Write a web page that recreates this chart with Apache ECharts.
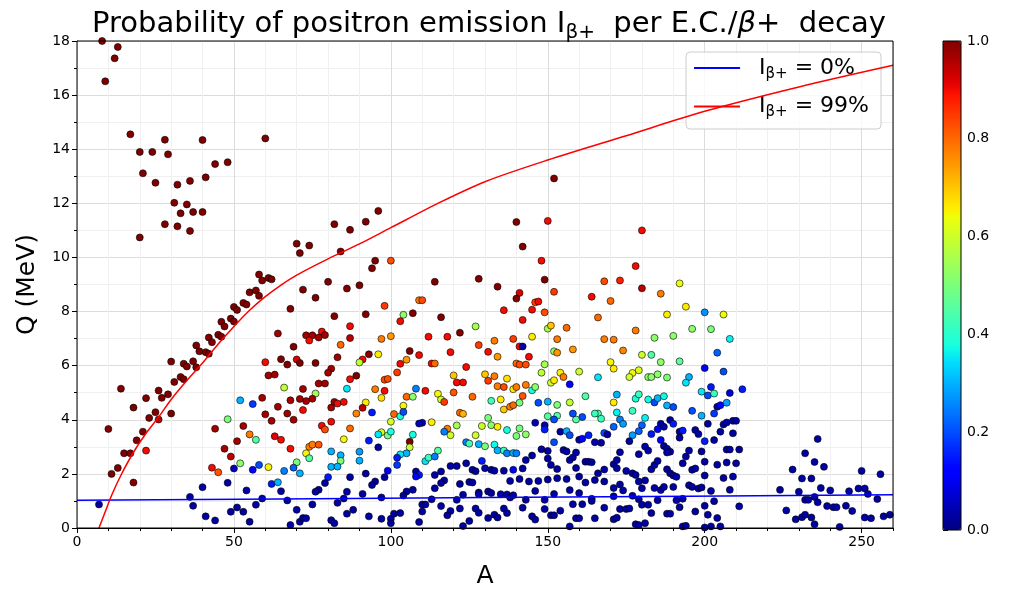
<!DOCTYPE html>
<html>
<head>
<meta charset="utf-8">
<script src="https://cdn.jsdelivr.net/npm/echarts@6/dist/echarts.min.js"></script>
<style>
  html, body { margin: 0; padding: 0; background: #fff; }
  #chart { width: 1016px; height: 594px; }
</style>
</head>
<body>
<div id="chart"></div>
<script>
// each point: [A, Q (MeV), I_beta+ probability]
const lightNuclei = [
  [8,18.0,1],[13,17.78,1],[12,17.36,1],[9,16.51,1],[17,14.55,1],[28,14.35,1],[40,14.34,1],[60,14.4,1],
  [20,13.9,1],[24,13.9,1],[29,13.81,1],[44,13.45,1],[48,13.52,1],[21,13.11,1],[25,12.76,1],[32,12.69,1],
  [36,12.83,1],[41,12.96,1],[31,12.02,1],[35,11.96,1],[33,11.63,1],[37,11.68,1],[40,11.68,1],[28,11.23,1],
  [32,11.15,1],[36,10.98,1],[20,10.74,1]
]
const leftBranch = [
  [82,11.23,1],[87,11.02,1],[70,10.51,1],[74,10.44,1],[71,10.16,1],[84,10.22,1],[58,9.37,1],[59,9.15,1],
  [61,9.24,1],[62,9.19,1],[55,8.71,1],[57,8.78,1],[58,8.58,1],[72,8.81,1],[76,8.51,1],[80,9.1,1],[86,8.85,1],
  [53,8.32,1],[54,8.26,1],[50,8.17,1],[51,8.06,1],[68,8.1,1],[82,7.83,1],[87,7.46,0.9],[49,7.74,1],[50,7.63,1],
  [46,7.62,1],[47,7.45,1],[42,7.04,1],[43,6.87,1],[45,7.14,1],[46,7.07,1],[38,6.75,1],[39,6.53,1],[41,6.5,1],
  [42,6.44,1],[30,6.15,1],[34,6.07,1],[37,6.16,1],[35,5.97,1],[38,5.94,1],[64,7.19,0.97],[73,7.12,0.97],
  [75,7.12,0.97],[78,7.26,0.9],[74,6.93,0.9],[77,7.04,0.97],[79,7.13,0.97],[69,6.7,1],[84,6.77,0.8],
  [87,7.02,0.95],[60,6.13,0.9],[65,6.24,1],[67,6.04,1],[70,6.23,0.92],[71,6.1,1],[76,6.1,1],[83,6.31,0.97],
  [81,5.89,0.97]
]
const lowMass = [
  [14,5.15,1],[18,4.45,1],[22,4.8,1],[26,5.08,1],[27,4.81,1],[29,4.94,1],[31,5.4,1],[33,5.58,1],[34,5.5,1],
  [30,4.23,1],[25,4.28,1],[23,4.07,1],[26,4.01,0.95],[10,3.66,1],[21,3.56,1],[19,3.24,1],[15,2.76,1],[17,2.76,1],
  [22,2.86,0.9],[13,2.22,1],[11,2.0,1],[18,1.68,1],[7,0.87,0.02],
  [80,5.74,0.97],[61,5.64,0.97],[63,5.67,0.97],[66,5.19,0.58],[72,5.14,0.97],[77,5.34,0.97],[79,5.34,0.97],
  [76,4.97,0.55],[75,4.78,0.97],[73,4.69,0.97],[71,4.77,0.97],[68,4.72,0.97],[64,4.48,0.97],[59,4.81,0.97],
  [52,4.72,0.3],[56,4.58,0.18],[67,4.23,0.97],[72,4.36,0.9],[60,4.2,0.97],[62,3.96,0.97],[69,4.0,0.97],
  [48,4.02,0.5],[53,3.77,0.97],[44,3.67,0.97],[55,3.46,0.78],[57,3.26,0.45],[51,3.21,0.97],[63,3.39,0.92],
  [65,3.26,0.9],[47,2.93,0.97],[49,2.64,0.95],[68,2.93,0.9],[74,3.0,0.78],[75,3.08,0.78],[77,3.08,0.82],
  [78,3.78,0.9],[79,3.64,0.83],[81,3.93,0.9],[81,4.45,0.97],[82,4.66,0.97],[83,4.6,0.9],[85,4.66,0.9],
  [86,5.15,0.35],[87,5.5,0.9],[87,3.68,0.8],[85,3.28,0.65],[73,2.76,0.65],[74,2.58,0.45],[70,2.43,0.5],
  [69,2.23,0.22],[71,2.02,0.3],[66,2.11,0.25],[61,2.25,0.65],[58,2.33,0.2],[56,2.15,0.12],[52,2.39,0.52],
  [50,2.2,0.05],[43,2.23,0.9],[45,2.06,0.82],[62,1.63,0.15],[64,1.69,0.3],[48,1.67,0.03],[40,1.51,0.03],
  [54,1.39,0.03],[65,1.36,0.03],[81,2.83,0.3],[84,2.69,0.3],[84,2.48,0.5],[81,2.26,0.3],[83,2.27,0.3],
  [87,1.88,0.03],[80,1.88,0.15],[79,1.66,0.03],[77,1.41,0.03],[76,1.34,0.03],[86,1.34,0.03],[36,1.15,0.03],
  [37,0.82,0.03],[59,1.09,0.03],[57,0.86,0.03],[67,1.02,0.03],[75,0.87,0.03],[83,0.93,0.03],[85,1.09,0.03],
  [86,0.53,0.03],[88,0.67,0.03],[51,0.76,0.03],[53,0.6,0.03],[49,0.6,0.03],[41,0.43,0.03],[44,0.28,0.03],
  [55,0.23,0.03],[70,0.67,0.03],[68,0.11,0.03],[71,0.23,0.03],[72,0.37,0.03],[73,0.36,0.03],[81,0.29,0.03],
  [82,0.18,0.03]
]
const midHigh = [
  [152,12.92,1],[92,11.32,1],[96,11.72,1],[140,11.31,1],[150,11.35,0.9],[142,10.4,1],[95,9.88,1],[100,9.88,0.83],
  [94,9.6,1],[148,9.88,0.9],[90,8.97,1],[114,9.1,1],[128,9.21,1],[134,8.92,1],[149,9.18,1],[141,8.69,0.92],
  [140,8.48,1],[152,8.73,0.85],[109,8.42,0.78],[110,8.42,0.83],[98,8.21,0.85],[146,8.34,0.85],[147,8.37,0.9],
  [145,8.07,0.9],[149,7.97,0.83],[136,8.05,0.9],[92,7.9,1],[104,7.88,0.52],[107,7.94,1],[116,7.79,1],
  [103,7.64,0.9],[142,7.69,0.9],[127,7.45,0.55],[150,7.37,0.55],[151,7.48,0.7],[156,7.4,0.8],[168,9.12,0.83],
  [173,9.15,0.88],[164,8.55,0.9],[170,8.39,0.8],[166,7.78,0.8],[97,6.99,0.78],[100,7.09,0.75],[112,7.07,0.9],
  [118,7.07,0.9],[122,7.22,1],[128,6.76,0.85],[133,6.92,0.78],[139,6.99,0.85],[141,6.71,0.9],[142,6.71,0.03],
  [145,7.07,0.66],[153,6.98,0.78],[158,6.6,0.75],[152,6.53,0.52],[153,6.48,0.75],[168,6.98,0.78],[171,6.96,0.78],
  [170,6.13,0.65],[171,5.89,0.66],[106,6.54,1],[109,6.39,0.9],[119,6.5,0.9],[131,6.51,0.9],[134,6.33,0.75],
  [144,6.33,0.9],[91,6.23,0.9],[93,6.42,1],[96,6.42,0.66],[90,6.12,0.58],[103,6.07,0.9],[105,6.22,0.75],
  [113,6.08,0.9],[114,6.08,0.8],[124,5.95,0.9],[140,6.08,0.8],[141,6.04,0.83],[143,6.04,0.83],[149,6.05,0.55]
]
const midColoured = [
  [89,5.63,1],[98,5.48,0.83],[99,5.51,0.83],[102,5.75,0.85],[95,5.13,0.78],[98,5.07,0.9],[97,4.81,0.67],
  [92,4.64,0.66],[91,4.44,0.95],[89,4.23,0.77],[94,4.27,0.15],[97,3.54,0.6],[96,3.46,0.35],[99,3.42,0.5],
  [100,3.56,0.38],[100,3.93,0.6],[101,4.21,0.8],[103,4.13,0.38],[104,4.52,0.65],[104,4.29,0.2],[105,4.85,0.8],
  [107,4.85,0.52],[108,5.15,0.25],[111,5.07,0.9],[115,4.96,0.65],[116,4.75,0.6],[117,4.66,0.85],[120,5.01,0.82],
  [120,5.64,0.7],[121,5.38,0.9],[123,5.38,0.9],[126,4.85,0.8],[122,4.26,0.8],[123,4.22,0.72],[130,5.68,0.7],
  [133,5.61,0.78],[137,5.52,0.67],[131,5.44,0.85],[134,5.24,0.78],[136,5.21,0.83],[139,5.13,0.66],[140,5.21,0.78],
  [143,5.29,0.78],[145,5.09,0.38],[146,5.21,0.52],[148,5.74,0.58],[151,5.37,0.6],[152,5.46,0.66],[154,5.74,0.66],
  [155,5.58,0.78],[160,5.78,0.6],[157,5.31,0.12],[166,5.57,0.35],[142,4.88,0.82],[135,4.75,0.66],[132,4.7,0.43],
  [136,4.38,0.7],[138,4.48,0.78],[139,4.54,0.8],[141,4.63,0.5],[147,4.63,0.2],[150,4.67,0.3],[153,4.55,0.5],
  [157,4.64,0.58],[162,4.87,0.45],[172,4.93,0.3],[171,4.64,0.66],[172,4.27,0.36],[166,4.23,0.45],[165,4.23,0.42],
  [161,4.1,0.2],[159,4.01,0.45],[158,4.23,0.2],[153,4.15,0.45],[150,4.13,0.45],[152,4.01,0.2],[167,4.04,0.42],
  [146,3.89,0.05],[149,3.8,0.05],[149,3.64,0.15],[131,4.07,0.5],[132,3.8,0.52],[134,3.74,0.66],[129,3.77,0.6],
  [127,3.43,0.6],[121,3.79,0.55],[118,3.67,0.78],[119,3.43,0.6],[117,3.56,0.25],[113,3.91,0.66],[110,3.89,0.05],
  [109,3.86,0.05],[107,3.45,0.38],[106,3.19,1],[106,2.98,0.6],[105,2.76,0.3],[103,2.72,0.35],[102,2.6,0.15],
  [102,2.33,0.18],[111,2.47,0.35],[112,2.6,0.42],[114,2.64,0.25],[115,2.86,0.45],[124,3.17,0.25],[125,3.12,0.43],
  [128,3.1,0.3],[130,3.02,0.5],[133,3.08,0.37],[134,2.87,0.3],[136,2.86,0.42],[137,2.76,0.25],[139,2.77,0.3],
  [140,2.76,0.25],[137,3.62,0.38],[140,3.4,0.5],[141,3.68,0.5],[143,3.46,0.52]
]
const midLow = [
  [129,2.48,0.15],[130,2.21,0.03],[132,2.15,0.03],[133,2.12,0.03],[136,2.12,0.03],[139,2.15,0.12],[142,2.2,0.03],
  [143,2.51,0.03],[145,2.68,0.03],[148,2.91,0.03],[152,3.17,0.2],[150,2.85,0.03],[150,2.57,0.03],[151,2.33,0.03],
  [153,2.18,0.03],[155,2.88,0.03],[156,2.83,0.03],[157,2.51,0.03],[158,2.61,0.03],[159,2.79,0.03],[159,2.22,0.03],
  [160,3.26,0.03],[161,3.3,0.12],[163,3.43,0.15],[154,3.56,0.03],[156,3.58,0.3],[157,3.43,0.2],[165,3.17,0.03],
  [167,3.15,0.03],[168,3.51,0.2],[169,3.46,0.03],[171,3.74,0.22],[162,2.45,0.03],[163,2.45,0.03],[164,2.43,0.03],
  [166,2.02,0.03],[168,2.16,0.03],[171,2.36,0.03],[172,2.51,0.03],[171,1.48,0.03],[168,1.72,0.03],[92,2.01,0.03],
  [96,2.98,0.03],[93,3.23,0.15],[90,2.82,0.28],[90,2.49,0.3],[99,2.12,0.1],[98,1.88,0.03],[108,2.09,0.03],
  [109,1.96,0.15],[108,1.9,0.12],[114,1.96,0.03],[116,2.09,0.03],[119,2.29,0.03],[121,2.29,0.03],[124,2.39,0.03],
  [126,2.15,0.03],[127,2.1,0.03],[95,1.72,0.03],[94,1.59,0.03],[105,1.35,0.03],[107,1.41,0.03],[104,1.2,0.03],
  [114,1.47,0.03],[117,1.76,0.03],[116,1.66,0.03],[122,1.63,0.03],[125,1.7,0.03],[126,1.68,0.03],[138,1.74,0.03],
  [141,1.81,0.03],[144,1.72,0.03],[147,1.74,0.03],[150,1.79,0.03],[153,1.84,0.03],[156,1.81,0.03],[160,1.9,0.03],
  [162,1.68,0.03],[165,1.77,0.03],[128,1.31,0.03],[131,1.35,0.03],[132,1.29,0.03],[135,1.25,0.03],[137,1.24,0.03],
  [138,1.13,0.03],[143,1.04,0.03],[146,1.37,0.03],[149,1.04,0.03],[152,1.26,0.03],[157,1.4,0.03],[160,1.29,0.03],
  [164,1.08,0.03],[171,1.17,0.03],[97,1.13,0.03],[91,1.26,0.03],[93,0.43,0.03],[97,0.34,0.03],[100,0.34,0.03],
  [100,0.18,0.03],[101,0.53,0.03],[103,0.55,0.03],[110,0.87,0.03],[111,0.87,0.03],[110,0.61,0.03],[109,0.22,0.03],
  [113,1.06,0.03],[116,0.81,0.03],[119,0.63,0.03],[118,0.47,0.03],[122,0.72,0.03],[123,1.23,0.03],[125,0.26,0.03],
  [123,0.07,0.03],[127,0.72,0.03],[128,1.25,0.03],[131,0.37,0.03],[133,0.49,0.03],[136,0.72,0.03],[137,0.55,0.03],
  [139,1.21,0.03],[142,0.75,0.03],[145,0.43,0.03],[146,0.31,0.03],[149,0.7,0.03],[151,0.47,0.03],[152,0.47,0.03],
  [154,0.64,0.03],[157,0.06,0.03],[159,0.36,0.03],[160,0.36,0.03],[161,0.88,0.03],[165,0.36,0.03],[168,0.75,0.03],
  [171,0.32,0.03],[172,0.38,0.03],[158,0.88,0.03],[164,1.0,0.03],[121,1.04,0.03],[128,0.56,0.03],[134,0.39,0.03]
]
const heavyMid = [
  [180,11.0,0.9],[178,9.68,0.9],[180,8.86,0.95],[186,8.66,0.78],[192,9.04,0.64],[194,8.18,0.66],[188,7.89,0.66],
  [200,7.97,0.27],[206,7.89,0.64],[178,7.3,0.78],[184,7.03,0.52],[190,7.1,0.52],[196,7.36,0.52],[202,7.35,0.5],
  [208,6.99,0.36],[174,6.56,0.77],[180,6.4,0.6],[183,6.4,0.45],[186,6.13,0.52],[192,6.16,0.46],[204,6.48,0.22],
  [200,5.91,0.12],[177,5.73,0.65],[179,5.83,0.62],[176,5.58,0.6],[182,5.58,0.52],[183,5.58,0.52],[185,5.68,0.52],
  [188,5.56,0.5],[206,5.78,0.2],[212,5.13,0.15],[195,5.58,0.3],[194,5.37,0.35],[202,5.21,0.15],[199,5.04,0.35],
  [201,4.9,0.2],[203,4.97,0.42],[208,4.99,0.08],[178,4.78,0.38],[179,4.94,0.42],[182,4.75,0.37],[184,4.64,0.2],
  [185,4.8,0.3],[187,4.87,0.37],[188,4.53,0.3],[190,4.47,0.2],[196,4.33,0.2],[204,4.48,0.03],[205,4.54,0.12],
  [207,4.63,0.28],[203,4.23,0.18],[199,4.15,0.3],[177,4.33,0.42],[173,4.01,0.25],[174,3.85,0.28],[181,4.07,0.36],
  [180,3.8,0.22],[179,3.58,0.22],[177,3.43,0.28],[176,3.21,0.03],[186,3.85,0.03],[187,3.74,0.03],[185,3.65,0.12],
  [183,3.47,0.15],[189,3.99,0.03],[190,3.85,0.15],[192,3.56,0.03],[193,3.6,0.15],[192,3.34,0.03],[197,3.62,0.03],
  [198,3.47,0.03],[201,3.85,0.03],[206,3.83,0.03],[207,3.9,0.03],[209,3.96,0.03],[210,3.96,0.03],[209,3.5,0.03],
  [205,3.56,0.03],[200,3.21,0.15],[203,3.25,0.03],[186,3.25,0.1],[187,3.03,0.03],[188,2.93,0.03],[189,2.82,0.03],
  [188,2.79,0.03],[181,3.01,0.03],[182,2.86,0.03],[179,2.73,0.03],[173,2.8,0.03],[195,2.86,0.03],[194,2.64,0.03],
  [193,2.39,0.03],[199,2.83,0.03],[200,2.45,0.03],[204,2.34,0.03],[207,2.42,0.03],[207,2.9,0.03],[208,2.9,0.03],
  [210,2.39,0.03],[211,2.9,0.03],[172,2.21,0.03],[175,2.11,0.03],[177,2.02,0.03],[178,1.96,0.03],[181,1.76,0.03],
  [179,1.72,0.03],[183,2.17,0.03],[184,2.33,0.03],[185,2.48,0.03],[188,2.17,0.03],[189,2.02,0.03],[190,1.94,0.03],
  [191,1.89,0.03],[196,2.15,0.03],[197,2.2,0.03],[206,1.85,0.03],[209,1.9,0.03],[200,1.94,0.03],[173,1.61,0.03],
  [174,1.39,0.03],[180,1.47,0.03],[184,1.48,0.03],[186,1.4,0.03],[187,1.52,0.03],[190,1.52,0.03],[195,1.58,0.03],
  [196,1.52,0.03],[198,1.46,0.03],[199,1.5,0.03],[202,1.37,0.03],[208,1.41,0.03],[177,1.19,0.03],[179,1.06,0.03],
  [185,1.03,0.03],[191,1.03,0.03],[193,1.08,0.03],[203,0.99,0.03],[200,0.82,0.03],[211,0.8,0.03],[173,0.7,0.03],
  [175,0.7,0.03],[176,0.72,0.03],[180,0.86,0.03],[182,0.86,0.03],[183,0.55,0.03],[188,0.53,0.03],[189,0.53,0.03],
  [192,0.77,0.03],[197,0.61,0.03],[201,0.49,0.03],[204,0.37,0.03],[178,0.14,0.03],[179,0.11,0.03],[181,0.18,0.03],
  [193,0.06,0.03],[194,0.08,0.03],[202,0.06,0.03],[205,0.06,0.03],[200,0.02,0.03]
]
const actinides = [
  [224,1.41,0.03],[226,0.65,0.03],[228,2.16,0.03],[230,1.34,0.03],[229,0.32,0.03],[231,0.4,0.03],[232,0.49,0.03],
  [234,0.39,0.03],[232,2.76,0.03],[231,1.83,0.03],[234,1.83,0.03],[236,3.29,0.03],[235,2.44,0.03],[238,2.26,0.03],
  [232,1.04,0.03],[233,1.04,0.03],[235,1.15,0.03],[236,0.95,0.03],[237,1.48,0.03],[240,1.39,0.03],[235,0.14,0.03],
  [239,0.81,0.03],[241,0.77,0.03],[242,0.77,0.03],[243,0.04,0.03],[245,0.82,0.03],[247,0.63,0.03],[246,1.36,0.03],
  [249,1.46,0.03],[251,1.46,0.03],[252,1.26,0.03],[250,2.11,0.03],[255,1.07,0.03],[256,1.99,0.03],[251,0.39,0.03],
  [253,0.36,0.03],[257,0.43,0.03],[259,0.49,0.03]
]

// I_beta+ = 0% and 99% threshold curves
const zeroA = [0, 65, 130, 195, 260]
const zeroQ = [1.03, 1.075, 1.125, 1.175, 1.225]
const fullA = [7, 9, 11, 14, 18, 22, 26, 30, 35, 40, 45, 50, 55, 60, 65, 70, 80, 90, 100, 115, 130, 150, 175, 200, 230, 260]
const fullQ = [0, 0.6, 1.2, 1.95, 2.8, 3.5, 4.1, 4.75, 5.45, 6.1, 6.8, 7.45, 8.05, 8.55, 8.98, 9.35, 9.95, 10.5, 11.1, 12.0, 12.8, 13.6, 14.5, 15.4, 16.3, 17.1]

const points = [].concat(lightNuclei, leftBranch, lowMass, midHigh, midColoured, midLow, heavyMid, actinides)

// matplotlib "jet" colormap
function jet(t) {
  const seg = (pts) => {
    for (let i = 1; i < pts.length; i++) {
      if (t <= pts[i][0]) {
        const f = (t - pts[i - 1][0]) / (pts[i][0] - pts[i - 1][0])
        return pts[i - 1][1] + f * (pts[i][1] - pts[i - 1][1])
      }
    }
    return pts[pts.length - 1][1]
  }
  const r = seg([[0, 0], [0.35, 0], [0.66, 1], [0.89, 1], [1, 0.5]])
  const g = seg([[0, 0], [0.125, 0], [0.375, 1], [0.64, 1], [0.91, 0], [1, 0]])
  const b = seg([[0, 0.5], [0.11, 1], [0.34, 1], [0.65, 0], [1, 0]])
  return 'rgb(' + Math.round(r * 255) + ',' + Math.round(g * 255) + ',' + Math.round(b * 255) + ')'
}
const jetColors = []
for (let i = 0; i <= 64; i++) jetColors.push(jet(i / 64))

const font = 'DejaVu Sans'
const chart = echarts.init(document.getElementById('chart'))

const option = {
  animation: false,
  textStyle: { fontFamily: font },
  title: {
    text: '{a|Probability of positron emission I}{s|β+}{a|  per E.C./}{i|β}{a|+  decay}',
    left: 484,
    top: 0,
    textAlign: 'center',
    textStyle: {
      fontWeight: 'normal',
      rich: {
        a: { fontFamily: font, fontSize: 29, fontWeight: 'normal', color: '#000', lineHeight: 38 },
        s: { fontFamily: font, fontSize: 20, fontWeight: 'normal', color: '#000', lineHeight: 38, verticalAlign: 'bottom' },
        i: { fontFamily: font, fontSize: 29, fontWeight: 'normal', fontStyle: 'italic', color: '#000', lineHeight: 38 }
      }
    }
  },
  legend: {
    data: ['zero', 'full'],
    orient: 'vertical',
    right: 135,
    top: 52,
    padding: [5, 12, 9, 8],
    itemGap: 14,
    itemWidth: 46,
    itemHeight: 2,
    icon: 'rect',
    backgroundColor: 'rgba(255,255,255,0.8)',
    borderColor: '#ccc',
    borderWidth: 1,
    borderRadius: 4,
    formatter: name => name === 'zero' ? '{f|I}{s|β+}{a| = 0%}' : '{f|I}{s|β+}{a| = 99%}',
    textStyle: {
      rich: {
        f: { fontFamily: font, fontSize: 22, color: '#000', lineHeight: 27, padding: [0, 0, 0, 14] },
        a: { fontFamily: font, fontSize: 22, color: '#000', lineHeight: 27 },
        s: { fontFamily: font, fontSize: 15, color: '#000', lineHeight: 27, verticalAlign: 'bottom' }
      }
    }
  },
  grid: [
    { left: 77, top: 41, width: 816, height: 489, show: true, borderColor: '#000', borderWidth: 1, z: 5, backgroundColor: 'transparent' },
    { left: 943, top: 41, width: 18, height: 489, show: true, borderColor: '#000', borderWidth: 1, z: 10, backgroundColor: 'transparent' }
  ],
  visualMap: {
    type: 'continuous',
    seriesIndex: 0,
    dimension: 2,
    min: 0,
    max: 1,
    left: 943,
    top: 41,
    itemWidth: 18,
    itemHeight: 489,
    padding: 0,
    calculable: false,
    hoverLink: false,
    inRange: { color: jetColors }
  },
  xAxis: [
    {
      gridIndex: 0, type: 'value', min: 0, max: 260, interval: 50, z: 1,
      name: 'A', nameLocation: 'middle', nameGap: 36,
      nameTextStyle: { fontSize: 25, color: '#000', fontFamily: font },
      axisLine: { onZero: false, lineStyle: { color: '#000', width: 1 } },
      axisTick: { length: 5, lineStyle: { color: '#000' } },
      axisLabel: { fontSize: 14, color: '#000', margin: 7, showMaxLabel: false, fontFamily: font },
      splitLine: { lineStyle: { color: '#dcdcdc', width: 1 } }
    },
    {
      gridIndex: 0, type: 'value', min: 0, max: 260, interval: 10, z: 0, position: 'bottom',
      axisLine: { show: false },
      axisTick: { length: 3, lineStyle: { color: '#000' } },
      axisLabel: { show: false },
      splitLine: { lineStyle: { color: '#f0f0f0', width: 1 } }
    },
    { gridIndex: 1, type: 'value', min: 0, max: 1, show: false }
  ],
  yAxis: [
    {
      gridIndex: 0, type: 'value', min: 0, max: 18, interval: 2,
      name: 'Q (MeV)', nameLocation: 'middle', nameGap: 37,
      nameTextStyle: { fontSize: 25, color: '#000', fontFamily: font },
      axisLine: { onZero: false, lineStyle: { color: '#000', width: 1 } },
      axisTick: { length: 5, lineStyle: { color: '#000' } },
      axisLabel: { fontSize: 14, color: '#000', margin: 7, fontFamily: font },
      minorTick: { show: true, splitNumber: 2, length: 3, lineStyle: { color: '#000' } },
      splitLine: { lineStyle: { color: '#dcdcdc', width: 1 } },
      minorSplitLine: { show: true, lineStyle: { color: '#f0f0f0', width: 1 } }
    },
    {
      gridIndex: 1, type: 'value', min: 0, max: 1, interval: 0.2, position: 'right',
      axisLine: { show: false },
      axisTick: { show: true, length: 5, lineStyle: { color: '#000' } },
      axisLabel: { fontSize: 14, color: '#000', margin: 6, fontFamily: font, formatter: v => v.toFixed(1) },
      splitLine: { show: false }
    }
  ],
  series: [
    {
      type: 'scatter',
      xAxisIndex: 0,
      yAxisIndex: 0,
      data: points,
      encode: { x: 0, y: 1 },
      symbolSize: 7,
      itemStyle: { borderColor: '#000', borderWidth: 0.6, opacity: 1 },
      z: 3
    },
    {
      name: 'zero',
      type: 'line',
      xAxisIndex: 0,
      yAxisIndex: 0,
      data: zeroA.map((a, i) => [a, zeroQ[i]]),
      symbol: 'none',
      lineStyle: { color: '#0000ff', width: 1.5 },
      itemStyle: { color: '#0000ff' },
      z: 4
    },
    {
      name: 'full',
      type: 'line',
      xAxisIndex: 0,
      yAxisIndex: 0,
      data: fullA.map((a, i) => [a, fullQ[i]]),
      smooth: 0.3,
      symbol: 'none',
      lineStyle: { color: '#ff0000', width: 1.5 },
      itemStyle: { color: '#ff0000' },
      z: 4
    }
  ]
}

chart.setOption(option)
window.addEventListener('resize', () => chart.resize())
</script>
</body>
</html>
